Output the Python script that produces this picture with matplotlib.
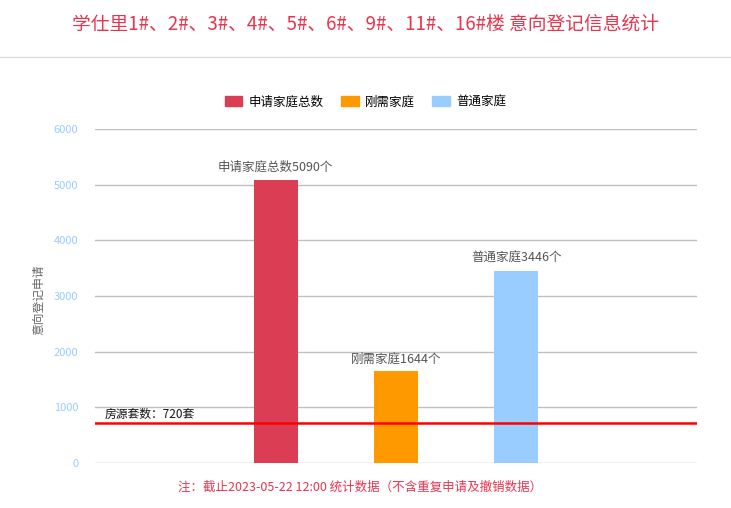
import matplotlib
matplotlib.use('Agg')
import matplotlib.pyplot as plt
from matplotlib.patches import Patch

plt.rcParams['font.family'] = ['Noto Sans CJK SC', 'DejaVu Sans']

# data
categories = ['申请家庭总数', '刚需家庭', '普通家庭']
values = [5090, 1644, 3446]
colors = ['#db3d55', '#ff9900', '#99ccff']
supply = 720
yticks = [0, 1000, 2000, 3000, 4000, 5000, 6000]

title = '学仕里1#、2#、3#、4#、5#、6#、9#、11#、16#楼 意向登记信息统计'
note = '注：截止2023-05-22 12:00 统计数据（不含重复申请及撤销数据）'

fig = plt.figure(figsize=(7.31, 5.08), dpi=100)
ax = fig.add_axes([0.130, 0.0886, 0.8235, 0.6575])

# bars sit in the middle three of five slots
xpos = [1, 2, 3]
ax.bar(xpos, values, width=0.365, color=colors, zorder=3)
for x, v, c in zip(xpos, values, categories):
    ax.text(x, v + 110, f'{c}{v}个', ha='center', va='bottom', fontsize=9, color='#555555')

ax.axhline(supply, color='#ff0000', lw=1.8, zorder=4)
ax.text(-0.42, supply + 30, f'房源套数：{supply}套', ha='left', va='bottom', fontsize=8.5, color='#111111', zorder=5)

ax.set_xlim(-0.5, 4.5)
ax.set_ylim(0, 6000)
ax.set_yticks(yticks)
ax.set_yticklabels([str(t) for t in yticks], color='#99ccff', fontsize=8)
ax.set_xticks([])
ax.tick_params(axis='y', length=0, pad=12)
ax.grid(axis='y', color='#c0c0c0', lw=1, zorder=0)
for s in ax.spines.values():
    s.set_visible(False)
ax.set_ylabel('意向登记申请', color='#666666', fontsize=8.5)
ax.yaxis.set_label_coords(-0.083, 0.49)

handles = [Patch(color=c, label=l) for c, l in zip(colors, categories)]
fig.legend(handles=handles, loc='center', bbox_to_anchor=(0.5, 1 - 102 / 508), ncol=3,
           frameon=False, fontsize=9, handlelength=1.4, handleheight=0.9,
           columnspacing=1.4, handletextpad=0.5)

fig.text(0.5, 1 - 24 / 508, title, ha='center', va='center', fontsize=13.5, color='#e8354f')
fig.add_artist(plt.Line2D([0, 1], [1 - 57 / 508] * 2, color='#dddddd', lw=1, transform=fig.transFigure))
fig.text(0.492, 1 - 487 / 508, note, ha='center', va='center', fontsize=9, color='#e8354f')

fig.savefig('out.png', dpi=100)
